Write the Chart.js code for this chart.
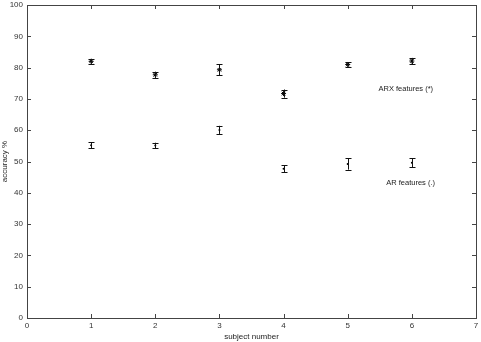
<!DOCTYPE html>
<html>
<head>
<meta charset="utf-8">
<script src="https://cdn.jsdelivr.net/npm/chart.js@4.4.0/dist/chart.umd.min.js"></script>
<style>
  html, body { margin: 0; padding: 0; background: #fff; }
  #wrap { width: 481px; height: 342px; }
</style>
</head>
<body>
<div id="wrap"><canvas id="accChart" width="481" height="342"></canvas></div>
<script>
const subjects = [1, 2, 3, 4, 5, 6];
const arxMean = [82.0, 77.7, 79.3, 71.7, 81.0, 82.1];
const arxErr = [0.8, 1.0, 1.7, 1.3, 0.7, 1.0];
const arMean = [55.2, 55.1, 60.1, 47.7, 49.2, 49.6];
const arErr = [0.9, 0.9, 1.3, 1.1, 1.8, 1.4];
const xTicks = [0, 1, 2, 3, 4, 5, 6, 7];
const yTicks = [0, 10, 20, 30, 40, 50, 60, 70, 80, 90, 100];
const notes = [
    { text: 'ARX features (*)', x: 5.48, y: 73.3 },
    { text: 'AR features (.)', x: 5.6, y: 43.3 }
];

const font = { family: 'Liberation Sans, Arial, sans-serif', size: 8 };

const matlabFrame = {
    id: 'matlabFrame',
    afterDatasetsDraw(chart) {
        const c = chart.ctx;
        const a = chart.chartArea;
        const xs = chart.scales.x, ys = chart.scales.y;
        c.save();
        // error bars
        c.strokeStyle = '#111';
        c.lineWidth = 1;
        chart.data.datasets.forEach(ds => {
            ds.data.forEach((p, i) => {
                const px = Math.round(xs.getPixelForValue(p.x)) + 0.5;
                const lo = ys.getPixelForValue(p.y - ds.err[i]);
                const hi = ys.getPixelForValue(p.y + ds.err[i]);
                c.beginPath();
                c.moveTo(px, lo); c.lineTo(px, hi);
                c.moveTo(px - 3, Math.round(lo) + 0.5); c.lineTo(px + 3, Math.round(lo) + 0.5);
                c.moveTo(px - 3, Math.round(hi) + 0.5); c.lineTo(px + 3, Math.round(hi) + 0.5);
                c.stroke();
            });
        });
        // box and inward ticks
        c.strokeStyle = '#444';
        c.strokeRect(Math.round(a.left) + 0.5, Math.round(a.top) + 0.5,
            Math.round(a.right - a.left), Math.round(a.bottom - a.top));
        c.beginPath();
        xTicks.forEach(v => {
            const px = Math.round(xs.getPixelForValue(v)) + 0.5;
            c.moveTo(px, a.bottom); c.lineTo(px, a.bottom - 4);
            c.moveTo(px, a.top); c.lineTo(px, a.top + 4);
        });
        yTicks.forEach(v => {
            const py = Math.round(ys.getPixelForValue(v)) + 0.5;
            c.moveTo(a.left, py); c.lineTo(a.left + 4, py);
            c.moveTo(a.right, py); c.lineTo(a.right - 4, py);
        });
        c.stroke();
        // text notes
        c.fillStyle = '#222';
        c.font = '7.5px ' + font.family;
        c.textBaseline = 'middle';
        notes.forEach(n => c.fillText(n.text, xs.getPixelForValue(n.x), ys.getPixelForValue(n.y)));
        c.restore();
    }
};

new Chart(document.getElementById('accChart').getContext('2d'), {
    type: 'scatter',
    data: {
        datasets: [
            {
                label: 'ARX',
                data: subjects.map((s, i) => ({ x: s, y: arxMean[i] })),
                err: arxErr,
                pointStyle: 'star',
                radius: 2.5,
                borderColor: '#000',
                backgroundColor: '#000',
                borderWidth: 1
            },
            {
                label: 'AR',
                data: subjects.map((s, i) => ({ x: s, y: arMean[i] })),
                err: arErr,
                pointStyle: 'circle',
                radius: 1,
                borderColor: '#000',
                backgroundColor: '#000',
                borderWidth: 0
            }
        ]
    },
    options: {
        responsive: false,
        animation: false,
        layout: { padding: { top: 5, right: 1, left: 0, bottom: 0 } },
        plugins: {
            legend: { display: false },
            tooltip: { enabled: false }
        },
        scales: {
            x: {
                min: 0, max: 7,
                afterBuildTicks: s => { s.ticks = xTicks.map(v => ({ value: v })); },
                afterFit: s => { s.height = 24; s.paddingLeft = 0; s.paddingRight = 0; },
                grid: { display: false, drawTicks: false },
                border: { display: false },
                ticks: { font: font, color: '#333', padding: 3, maxRotation: 0 },
                title: { display: true, text: 'subject number', font: font, color: '#222', padding: { top: 0, bottom: 0 } }
            },
            y: {
                min: 0, max: 100,
                afterBuildTicks: s => { s.ticks = yTicks.map(v => ({ value: v })); },
                afterFit: s => { s.width = 27; s.paddingTop = 0; s.paddingBottom = 0; },
                grid: { display: false, drawTicks: false },
                border: { display: false },
                ticks: { font: font, color: '#333', padding: 4 },
                title: { display: true, text: 'accuracy %', font: font, color: '#222', padding: { top: 0, bottom: 0 } }
            }
        }
    },
    plugins: [matlabFrame]
});
</script>
</body>
</html>
